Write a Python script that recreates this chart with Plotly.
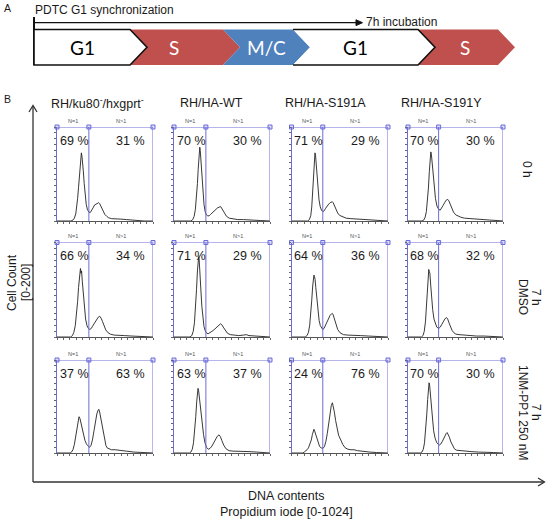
import plotly.graph_objects as go

W, H = 546, 519

# ---------------- data ----------------
strains = ["RH/ku80<sup>-</sup>/hxgprt<sup>-</sup>", "RH/HA-WT", "RH/HA-S191A", "RH/HA-S191Y"]
cond_time = ["0 h", "7 h", "7 h"]
cond_treat = ["", "DMSO", "1NM-PP1 250 nM"]
gate_ch = [340, 340, 332, 330]          # N=1 / N>1 gate boundary (PI channel) per strain
pct_n1 = [[69, 70, 71, 70], [66, 71, 64, 68], [37, 63, 24, 70]]
pct_n2 = [[31, 30, 29, 30], [34, 29, 36, 32], [63, 37, 76, 30]]

phases = ["G1", "S", "M/C", "G1", "S"]
phase_colors = ["white", "#C0504D", "#4F81BD", "white", "#C0504D"]
phase_text_colors = ["black", "white", "white", "black", "white"]

# histograms (PI channel 0-1024, cell count 0-200), row r / column c
h11_x = [0,150,170,185,200,210,220,230,240,248,255,260,266,272,280,290,300,312,325,340,355,370,385,400,415,430,445,455,465,480,495,510,530,550,580,620,680,740,800,860,930,1024]
h11_y = [0,0,2,6,15,28,48,72,100,125,140,145,138,128,108,80,55,35,24,19,18,22,28,34,36,38,39,37,33,26,20,14,10,7,5,4,4,3,2,1,0,0]
h12_x = [0,180,200,215,228,240,250,258,265,270,275,280,286,292,300,310,320,332,345,360,375,390,410,430,450,465,480,492,500,510,525,540,560,590,630,680,740,800,860,920,1024]
h12_y = [0,0,3,10,25,48,80,110,135,150,157,150,132,110,82,55,35,20,13,11,11,14,18,22,25,28,29,31,30,27,22,16,10,6,4,3,3,2,2,1,0]
h13_x = [0,170,190,205,215,225,235,242,249,255,262,270,280,292,305,320,334,348,362,378,395,410,425,433,442,455,470,490,510,540,580,630,700,780,860,950,1024]
h13_y = [0,0,3,12,30,60,100,132,145,140,122,98,70,45,30,22,20,22,27,32,36,39,40,41,39,33,25,17,12,9,6,5,4,4,2,1,0]
h14_x = [0,150,170,185,198,210,220,230,238,246,252,260,270,282,296,312,330,347,362,378,395,410,428,440,455,470,490,515,540,570,610,660,720,800,880,960,1024]
h14_y = [0,0,2,8,20,42,70,105,130,147,142,125,100,72,48,32,25,23,27,33,39,44,46,43,36,27,19,13,10,8,6,5,4,3,2,1,0]

h21_x = [0,145,165,180,195,208,220,230,240,246,250,256,262,270,280,292,305,320,335,349,365,380,400,420,440,455,470,485,500,520,545,570,610,660,720,800,880,1024]
h21_y = [0,0,3,10,24,45,75,105,130,142,145,135,140,118,90,60,38,24,18,16,18,23,30,37,42,44,40,33,24,15,9,6,4,3,3,2,1,0]
h22_x = [0,170,190,205,218,230,240,250,257,263,268,274,280,288,297,308,320,335,350,365,385,405,425,445,465,480,497,510,525,545,570,600,640,690,740,770,800,860,920,1024]
h22_y = [0,0,3,12,30,60,100,140,162,170,165,150,125,95,65,40,22,12,8,7,9,12,15,18,22,25,28,26,21,14,8,5,4,3,4,5,3,2,1,0]
h23_x = [0,145,165,180,193,205,215,225,232,238,244,250,258,268,280,293,306,320,331,345,360,375,392,410,425,433,442,455,470,490,515,551,600,660,730,820,900,1024]
h23_y = [0,0,3,10,25,48,78,108,125,131,128,122,105,80,55,35,24,18,16,18,24,32,40,46,49,50,47,38,27,16,9,5,4,3,3,2,1,0]
h24_x = [0,145,162,175,188,200,210,218,224,230,236,244,254,266,280,295,310,331,348,365,382,400,416,428,442,458,475,495,516,550,600,660,740,820,900,1024]
h24_y = [0,0,3,12,32,65,100,130,143,138,135,112,85,58,38,27,21,18,21,27,34,39,41,38,30,21,14,9,6,5,4,3,2,2,1,0]

h31_x = [0,140,155,170,185,200,212,224,235,245,255,268,282,298,315,332,347,362,378,395,410,425,438,446,455,466,478,492,508,522,535,555,580,620,680,740,820,900,1024]
h31_y = [0,0,2,7,18,35,52,68,78,74,66,52,38,27,19,14,12,16,28,48,68,84,92,94,88,76,60,42,25,16,11,9,7,7,6,4,2,1,0]
h32_x = [0,165,180,195,208,220,232,242,250,256,262,270,280,292,302,315,330,348,366,385,405,425,445,462,480,495,510,530,555,587,630,680,740,800,880,960,1024]
h32_y = [0,0,2,8,22,45,78,110,130,139,135,120,100,80,64,40,22,12,8,10,15,22,30,36,39,35,27,17,9,5,4,4,3,3,2,1,0]
h33_x = [0,120,135,150,165,180,195,210,222,232,238,246,256,268,282,298,315,334,350,365,380,395,410,422,434,444,455,468,482,500,523,545,570,600,630,664,700,760,830,900,1024]
h33_y = [0,0,2,4,7,11,18,28,40,48,51,47,40,30,21,14,11,10,14,25,42,65,88,102,108,100,88,70,52,38,28,18,11,8,7,7,5,3,2,1,0]
h34_x = [0,135,150,165,178,190,202,212,220,227,233,240,250,262,276,292,310,337,352,368,385,400,412,422,432,446,462,480,500,522,560,610,680,760,840,920,1024]
h34_y = [0,0,2,8,22,48,82,115,140,151,146,130,102,72,48,32,22,17,19,24,32,39,42,44,41,34,24,16,9,6,5,4,3,2,2,1,0]

hists = [[(h11_x, h11_y), (h12_x, h12_y), (h13_x, h13_y), (h14_x, h14_y)],
         [(h21_x, h21_y), (h22_x, h22_y), (h23_x, h23_y), (h24_x, h24_y)],
         [(h31_x, h31_y), (h32_x, h32_y), (h33_x, h33_y), (h34_x, h34_y)]]

# ---------------- layout geometry (pixels) ----------------
col_left = [57, 174, 291.5, 408]
col_right = [153, 270, 388, 503]
row_top = [127, 242.5, 360]
row_bot = [221, 337, 453]
title_x = [97, 211, 325, 441]
label_y = [169, 297, 412]

def px(x):
    return x / W

def py(y):
    return 1 - y / H

FONT = "Liberation Sans, Arial, sans-serif"
BLUE = "#6c6cd8"
TXT = "#1a1a1a"

fig = go.Figure()
layout = dict(width=W, height=H, margin=dict(l=0, r=0, t=0, b=0),
              paper_bgcolor="white", plot_bgcolor="white", showlegend=False,
              font=dict(family=FONT, color=TXT))
shapes, annotations = [], []

def note(text, x, y, size=12.5, xanchor="center", yanchor="middle", **kw):
    d = dict(text=text, xref="paper", yref="paper", x=px(x), y=py(y), showarrow=False,
             xanchor=xanchor, yanchor=yanchor, font=dict(family=FONT, size=size, color=TXT))
    d.update(kw)
    annotations.append(d)

def pline(pts, color="#333", width=1.2, fill=None):
    path = "M " + " L ".join(f"{px(x):.5f},{py(y):.5f}" for x, y in pts)
    if fill:
        path += " Z"
    d = dict(type="path", xref="paper", yref="paper", path=path,
             line=dict(color=color, width=width))
    if fill:
        d["fillcolor"] = fill
    shapes.append(d)

for r in range(3):
    for c in range(4):
        k = r * 4 + c + 1
        xs = "x" if k == 1 else f"x{k}"
        ys = "y" if k == 1 else f"y{k}"
        xkey = "xaxis" if k == 1 else f"xaxis{k}"
        ykey = "yaxis" if k == 1 else f"yaxis{k}"
        layout[xkey] = dict(domain=[px(col_left[c]), px(col_right[c])], range=[0, 1024],
                            anchor=ys, showgrid=False, zeroline=False, showline=True,
                            linecolor="#555", linewidth=1, ticks="outside", ticklen=2,
                            tickcolor="#666", tickwidth=1, tick0=0, dtick=1024 / 15,
                            showticklabels=False, fixedrange=True)
        layout[ykey] = dict(domain=[py(row_bot[r]), py(row_top[r])], range=[0, 200],
                            anchor=xs, showgrid=False, zeroline=False, showline=True,
                            linecolor=BLUE, linewidth=1, ticks="outside", ticklen=2,
                            tickcolor="#666", tickwidth=1, tick0=0, dtick=12.5,
                            showticklabels=False, fixedrange=True)
        hx, hy = hists[r][c]
        fig.add_trace(go.Scatter(x=hx, y=hy, mode="lines", xaxis=xs, yaxis=ys,
                                 line=dict(color="#222", width=0.9), hoverinfo="skip"))
        g = gate_ch[c]
        for gx in (g, 1024):
            shapes.append(dict(type="line", xref=xs, yref=ys, x0=gx, x1=gx, y0=0, y1=200,
                               line=dict(color=BLUE, width=1)))
        shapes.append(dict(type="line", xref=xs, yref=ys, x0=0, x1=1024, y0=200, y1=200,
                           line=dict(color=BLUE, width=1)))
        fig.add_trace(go.Scatter(x=[0, g, 1024], y=[200, 200, 200], mode="markers",
                                 xaxis=xs, yaxis=ys, cliponaxis=False, hoverinfo="skip",
                                 marker=dict(symbol="square", size=4, color="#dcdcfa",
                                             line=dict(color=BLUE, width=1))))
        annotations.append(dict(text="N=1", xref=xs, yref=ys, x=g / 2, y=200, yshift=6,
                                xanchor="center", yanchor="middle",
                                showarrow=False, font=dict(family=FONT, size=5.5, color="#555")))
        annotations.append(dict(text="N>1", xref=xs, yref=ys, x=(g + 1024) / 2, y=200, yshift=6,
                                xanchor="center", yanchor="middle",
                                showarrow=False, font=dict(family=FONT, size=5.5, color="#555")))
        annotations.append(dict(text=f"{pct_n1[r][c]} %", xref=xs, yref=ys, x=g, y=200,
                                xanchor="right", yanchor="middle", xshift=2, yshift=-13.5,
                                showarrow=False, font=dict(family=FONT, size=12.5, color=TXT)))
        annotations.append(dict(text=f"{pct_n2[r][c]} %", xref=xs, yref=ys, x=1024, y=200,
                                xanchor="right", yanchor="middle", xshift=-6, yshift=-13.5,
                                showarrow=False, font=dict(family=FONT, size=12.5, color=TXT)))

for c in range(4):
    note(strains[c], title_x[c], 103)
for r in range(3):
    if cond_treat[r]:
        note(cond_time[r], 536, label_y[r], size=12, textangle=90)
        note(cond_treat[r], 523, label_y[r], size=12, textangle=90)
    else:
        note(cond_time[r], 527, label_y[r], size=12, textangle=90)

# big axes (lines + open arrow heads)
pline([(33, 482), (33, 106)], width=1.3)
pline([(29, 112), (33, 105.5), (37, 112)], width=1.3)
pline([(33, 482), (544, 482)], width=1.3)
pline([(538, 478), (544.5, 482), (538, 486)], width=1.3)
note("Cell Count", 12, 283, size=12, textangle=-90)
note("[0-200]", 26, 283, size=12, textangle=-90)
note("DNA contents", 286, 496)
note("Propidium iode [0-1024]", 286, 511.5)
note("A", 7, 8, size=10.5)
note("B", 7, 99, size=10.5)

# ---------------- panel A: cell-cycle scheme ----------------
note("PDTC G1 synchronization", 33, 10.5, size=12, xanchor="left")
note("7h incubation", 364, 21.5, size=12, xanchor="left")
pline([(34, 22.7), (357, 22.7)], color="#111", width=1.3)
pline([(356, 19.8), (362.5, 22.7), (356, 25.6)], color="#111", width=1, fill="#111")
shapes.append(dict(type="line", xref="paper", yref="paper", x0=px(34), x1=px(34),
                   y0=py(17), y1=py(65), line=dict(color="#111", width=2)))

tops = [34, 130, 223, 293, 418, 498]
depth = 17
ytop, ybot = 29.5, 65
ymid = (ytop + ybot) / 2
text_x = [82, 174, 266, 355, 465]

def chevron(i):
    L, R = tops[i], tops[i + 1]
    pts = [(L, ytop), (R, ytop), (R + depth, ymid), (R, ybot), (L, ybot)]
    if i > 0:
        pts.append((L + depth, ymid))
    return pts

def to_path(pts, close=True):
    s = "M " + " L ".join(f"{px(x):.5f},{py(y):.5f}" for x, y in pts)
    return s + (" Z" if close else "")

order = [1, 2, 4, 0, 3]
for i in order:
    pts = chevron(i)
    if phase_colors[i] == "white":
        shapes.append(dict(type="path", xref="paper", yref="paper", path=to_path(pts),
                           fillcolor="white", line=dict(width=0)))
        outline = to_path(pts, close=True) if i == 0 else to_path(pts[:5], close=False)
        shapes.append(dict(type="path", xref="paper", yref="paper", path=outline,
                           line=dict(color="#111", width=1.6)))
    else:
        shapes.append(dict(type="path", xref="paper", yref="paper", path=to_path(pts),
                           fillcolor=phase_colors[i], line=dict(width=0)))
    annotations.append(dict(text=phases[i], xref="paper", yref="paper", x=px(text_x[i]),
                            y=py(48), xanchor="center", yanchor="middle", showarrow=False,
                            font=dict(family="Lato, Open Sans, sans-serif", size=19,
                                      color=phase_text_colors[i])))

layout["shapes"] = shapes
layout["annotations"] = annotations
fig.update_layout(**layout)
fig.write_html("out.html", config={"displayModeBar": False},
               post_script="document.body.style.margin='0px';")
